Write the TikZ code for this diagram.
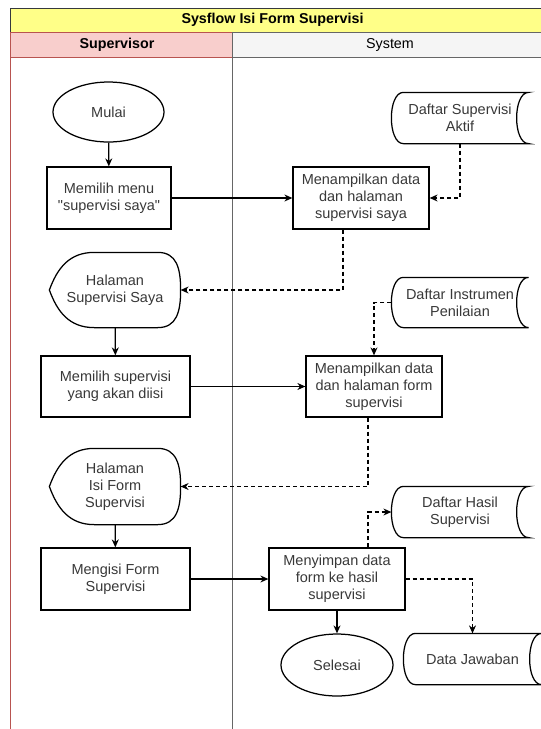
\documentclass[tikz,border=0pt]{standalone}
\usepackage{fontspec}
\newfontfamily\lib{Liberation Sans}
\usetikzlibrary{shapes.geometric,arrows.meta,calc}
\definecolor{titlefill}{HTML}{FFFF88}
\definecolor{titleline}{HTML}{36393D}
\definecolor{redfill}{HTML}{F8CECC}
\definecolor{redline}{HTML}{B85450}
\definecolor{greyfill}{HTML}{F5F5F5}
\definecolor{greyline}{HTML}{666666}
\definecolor{txt}{HTML}{383838}
\tikzset{
  base/.style={align=center, text=txt, font=\lib\fontsize{14.5}{17}\selectfont, line width=1.25pt},
  proc/.style={base, draw, rectangle, minimum width=136pt, minimum height=62pt, inner sep=0pt},
  term/.style={base, draw, ellipse, minimum width=112pt, minimum height=61pt, inner sep=0pt},
  store/.style={base, rectangle, minimum width=136pt, minimum height=50pt, inner sep=0pt},
  disp/.style={base, rectangle, minimum width=130pt, minimum height=74pt, inner sep=0pt},
  flow/.style={line width=1.25pt, -{Stealth[length=8pt,width=7pt]}},
  dflow/.style={line width=1.25pt, dash pattern=on 4pt off 3pt, -{Stealth[length=8pt,width=7pt]}},
  hdr/.style={font=\lib\fontsize{14.3}{17}\selectfont}
}
\begin{document}
\begin{tikzpicture}[x=1pt,y=-1pt]
\useasboundingbox (0,0) rectangle (541,729);
\begin{scope}
\clip (0,0) rectangle (541,729);
% pool and lanes
\draw[line width=1pt, draw=titleline, fill=titlefill] (10,8) rectangle (560,32);
\draw[line width=1pt, draw=redline, fill=redfill] (10,32) rectangle (232,57);
\draw[line width=1pt, draw=greyline, fill=greyfill] (232,32) rectangle (560,57);
\draw[line width=1pt, draw=redline] (10,57) -- (10,740);
\draw[line width=1pt, draw=greyline] (232,57) -- (232,740);
\node[hdr, font=\lib\fontsize{14.3}{17}\selectfont\bfseries] (title) at (272.5,20) {Sysflow Isi Form Supervisi};
\node[hdr, font=\lib\fontsize{14.3}{17}\selectfont\bfseries] (lsup) at (117,45) {Supervisor};
\node[hdr] (lsys) at (390,45) {System};

% nodes
\node[term, minimum width=111pt, minimum height=60pt] (mulai) at (108.5,112) {Mulai};
\node[proc, minimum width=124pt] (m1) at (109,198) {Memilih menu\\"supervisi saya"};
\node[store] (dsa) at (460,118) {Daftar Supervisi\\Aktif};
\node[proc] (s1) at (361,198) {Menampilkan data\\dan halaman\\supervisi saya};
\node[disp] (hs1) at (115,290) {Halaman\\Supervisi Saya};
\node[proc, minimum width=149pt, minimum height=61pt] (m2) at (115.5,386.5) {Memilih supervisi\\yang akan diisi};
\node[store, minimum height=49pt] (dip) at (460,302.5) {Daftar Instrumen\\Penilaian};
\node[proc, minimum height=61pt] (s2) at (374,386.5) {Menampilkan data\\dan halaman form\\supervisi};
\node[disp, minimum height=75pt] (hs2) at (115,486.5) {Halaman\\Isi Form\\Supervisi};
\node[proc, minimum width=149pt] (m3) at (115.5,579) {Mengisi Form\\Supervisi};
\node[proc] (s3) at (337,579) {Menyimpan data\\form ke hasil\\supervisi};
\node[store] (dhs) at (460,512) {Daftar Hasil\\Supervisi};
\node[store, minimum width=137pt] (dj) at (472.5,659) {Data Jawaban};
\node[term, minimum height=62pt] (selesai) at (337,665) {Selesai};

% stored data outlines
\foreach \n in {dsa,dip,dhs,dj}{
  \draw[line width=1.25pt] ($(\n.north west)+(12,0)$) -- (\n.north east)
    .. controls ($(\n.north east)+(-16,0)$) and ($(\n.south east)+(-16,0)$) .. (\n.south east)
    -- ($(\n.south west)+(12,0)$)
    .. controls ($(\n.south west)+(-4,0)$) and ($(\n.north west)+(-4,0)$) .. cycle;
}
% display outlines
\foreach \n in {hs1,hs2}{
  \draw[line width=1.25pt] (\n.west)
    .. controls ($(\n.west)+(8,-22)$) and ($(\n.north west)+(20,0)$) .. ($(\n.north west)+(45,0)$)
    -- ($(\n.north east)+(-23,0)$)
    .. controls ($(\n.north east)+(-4,0)$) and ($(\n.east)+(0,-22)$) .. (\n.east)
    .. controls ($(\n.east)+(0,22)$) and ($(\n.south east)+(-4,0)$) .. ($(\n.south east)+(-23,0)$)
    -- ($(\n.south west)+(45,0)$)
    .. controls ($(\n.south west)+(20,0)$) and ($(\n.west)+(8,22)$) .. cycle;
}

% connectors
\draw[flow] (mulai) -- (m1);
\draw[flow] (m1) -- (s1);
\draw[dflow] (dsa.south) |- (s1.east);
\draw[dflow] ([xshift=-18pt]s1.south) |- (hs1.east);
\draw[flow] (hs1) -- (m2);
\draw[flow] (m2) -- (s2);
\draw[dflow] (dip.west) -| (s2.north);
\draw[dflow] ([xshift=-6pt]s2.south) |- (hs2.east);
\draw[flow] (hs2) -- (m3);
\draw[flow] (m3) -- (s3);
\draw[dflow] ([xshift=31pt]s3.north) |- (dhs.west);
\draw[dflow] (s3.east) -| (dj.north);
\draw[flow] (s3) -- (selesai);
\end{scope}
\end{tikzpicture}
\end{document}
